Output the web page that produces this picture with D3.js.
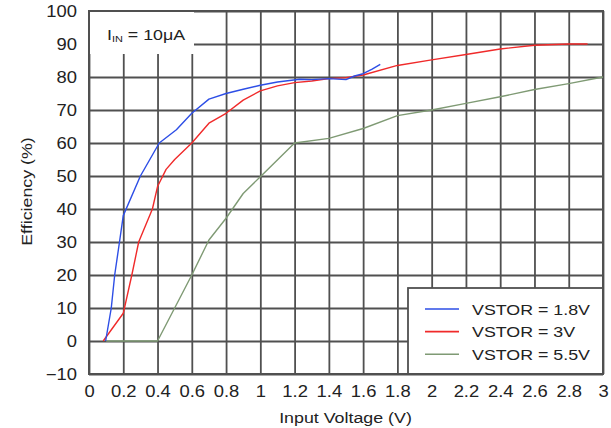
<!DOCTYPE html>
<html><head><meta charset="utf-8">
<script src="https://cdn.jsdelivr.net/npm/d3@7"></script>
<style>
html,body{margin:0;padding:0;background:#fff;}
text{font-family:"Liberation Sans",Arial,sans-serif;fill:#222;}
</style></head>
<body><svg id="c" width="611" height="428"></svg>
<script>
// ---- data ----
const xTicks = [0,0.2,0.4,0.6,0.8,1,1.2,1.4,1.6,1.8,2,2.2,2.4,2.6,2.8,3];
const yTicks = [-10,0,10,20,30,40,50,60,70,80,90,100];
const seriesNames = ["VSTOR = 1.8V","VSTOR = 3V","VSTOR = 5.5V"];
const seriesColors = ["#2d4ee6","#f02a2a","#7f9a74"];
const vstor18 = [[0.097,0],[0.13,10],[0.15,20],[0.178,30],[0.2,38],[0.3,50],[0.41,60],[0.51,64],[0.6,69],[0.7,73.3],[0.8,75],[0.9,76.3],[1.0,77.5],[1.1,78.5],[1.23,79.3],[1.3,79.2],[1.4,79.5],[1.5,79.2],[1.55,80.3],[1.6,81],[1.65,82.3],[1.7,83.8]];
const vstor3 = [[0.083,0],[0.2,8.4],[0.25,20],[0.29,30],[0.37,40],[0.4,46.8],[0.45,52],[0.5,55],[0.6,60],[0.7,66],[0.8,69],[0.9,73],[1.0,75.8],[1.1,77.3],[1.2,78.3],[1.3,78.8],[1.4,79.5],[1.5,79.8],[1.6,80.6],[1.8,83.5],[2.0,85.2],[2.2,86.8],[2.4,88.5],[2.6,89.6],[2.8,90],[2.91,90]];
const vstor55 = [[0.1,0],[0.4,0],[0.6,20],[0.7,30.6],[0.8,37.2],[0.9,44.7],[1.0,49.8],[1.2,60],[1.4,61.4],[1.6,64.4],[1.8,68.3],[2.0,70],[2.2,72],[2.4,74],[2.6,76.2],[2.8,78],[3.0,80]];
const seriesData = [vstor18, vstor3, vstor55];
const noteMain = "I", noteSub = "IN", noteRest = " = 10μA";

// ---- layout ----
const L=89, R=603, T=11, B=374;
const sx = 1.15; // horizontal stretch of text in reference
const svg = d3.select("#c");
const x = d3.scaleLinear().domain([0,3]).range([L,R]);
const y = d3.scaleLinear().domain([-10,100]).range([B,T]);
const gridColor = "#505050";

// grid via axes
const gx = svg.append("g").attr("transform",`translate(0,${B})`)
  .call(d3.axisBottom(x).tickValues(xTicks).tickSize(-(B-T)).tickFormat(d3.format("~g")));
const gy = svg.append("g").attr("transform",`translate(${L},0)`)
  .call(d3.axisLeft(y).tickValues(yTicks).tickSize(-(R-L)).tickFormat(d3.format("~g")));
[gx,gy].forEach(g=>{
  g.select(".domain").remove();
  g.selectAll("line").attr("stroke",gridColor).attr("stroke-width",1.8);
  g.selectAll("text").attr("font-size",16).attr("fill","#222")
   .style("font-family","'Liberation Sans',Arial,sans-serif");
});
gx.selectAll("text").attr("y",12).attr("dy","0.71em").attr("transform",`scale(${sx},1)`);
gy.selectAll("text").attr("x",-12/sx).attr("dy","0.34em").attr("transform",`scale(${sx},1)`);

// annotation box (covers grid)
svg.append("rect").attr("x",L).attr("y",T).attr("width",105).attr("height",43).attr("fill","#fff");
const nt = svg.append("g").attr("transform",`translate(107,40) scale(${sx},1)`)
  .append("text").attr("font-size",15.5);
nt.append("tspan").text(noteMain);
nt.append("tspan").attr("font-size",9.5).attr("dy",2).text(noteSub);
nt.append("tspan").attr("dy",-2).text(noteRest);

// legend box
const lgX=408, lgY=288;
svg.append("rect").attr("x",lgX).attr("y",lgY).attr("width",R-lgX).attr("height",B-lgY)
  .attr("fill","#fff").attr("stroke",gridColor).attr("stroke-width",1.8);

// border
svg.append("rect").attr("x",L).attr("y",T).attr("width",R-L).attr("height",B-T)
  .attr("fill","none").attr("stroke",gridColor).attr("stroke-width",2);

// series
const line = d3.line().x(d=>x(d[0])).y(d=>y(d[1]));
// draw green first, then red, blue
[2,1,0].forEach(i=>{
  svg.append("path").datum(seriesData[i]).attr("d",line)
    .attr("fill","none").attr("stroke",seriesColors[i]).attr("stroke-width",1.4)
    .attr("stroke-linejoin","round");
});

// legend entries
seriesNames.forEach((n,i)=>{
  const yy = 309 + i*22.6;
  svg.append("line").attr("x1",425).attr("x2",459).attr("y1",yy).attr("y2",yy)
    .attr("stroke",seriesColors[i]).attr("stroke-width",1.6);
  svg.append("g").attr("transform",`translate(472,${yy}) scale(${sx},1)`)
    .append("text").attr("font-size",15.5).attr("dy","0.36em").text(n);
});

// axis titles
svg.append("g").attr("transform",`translate(345.5,423) scale(${sx},1)`)
  .append("text").attr("font-size",15.5).attr("text-anchor","middle").text("Input Voltage (V)");
svg.append("g").attr("transform",`translate(32,191.5) rotate(-90) scale(${sx},1)`)
  .append("text").attr("font-size",15.5).attr("text-anchor","middle").text("Efficiency (%)");
</script></body></html>
